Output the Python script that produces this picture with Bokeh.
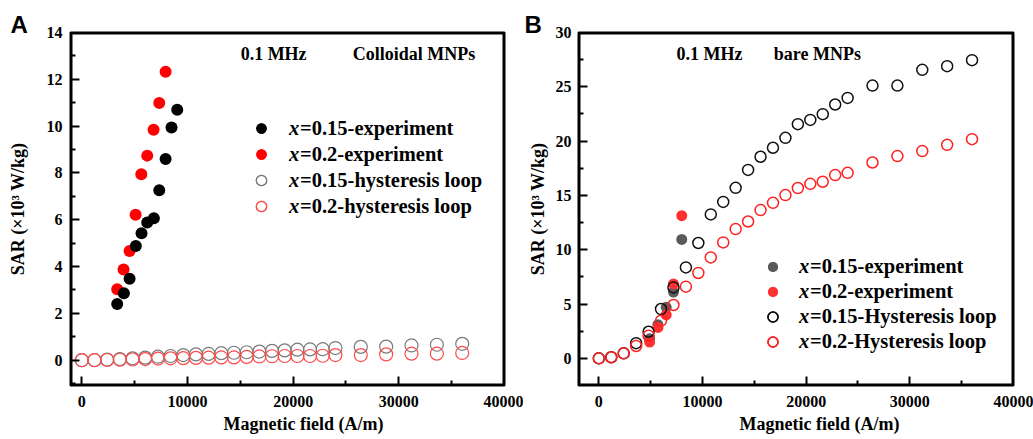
from bokeh.plotting import figure
from bokeh.layouts import row
from bokeh.models import (ColumnDataSource, Range1d, FixedTicker, Legend,
                          LegendItem, Label, Title, LinearAxis)
from bokeh.embed import file_html
from bokeh.resources import INLINE

SERIF = "Liberation Serif"
SANS = "Liberation Sans"

# ---------------- data ----------------
# Panel A (Colloidal MNPs)
a_exp15_field = [3350, 3980, 4520, 5110, 5650, 6190, 6820, 7330, 7930, 8490, 9030]
a_exp15_sar = [2.40, 2.86, 3.48, 4.88, 5.42, 5.88, 6.06, 7.26, 8.60, 9.94, 10.70]
a_exp20_field = [3350, 3950, 4520, 5090, 5630, 6190, 6790, 7330, 7930]
a_exp20_sar = [3.03, 3.88, 4.67, 6.21, 7.94, 8.74, 9.85, 10.99, 12.32]

loop_field = [0, 1200, 2400, 3600, 4800, 6000, 7200, 8400, 9600, 10800, 12000, 13200,
              14400, 15600, 16800, 18000, 19200, 20400, 21600, 22800, 24000,
              26400, 28800, 31200, 33600, 36000]
a_loop15_sar = [0.00, 0.01, 0.03, 0.05, 0.08, 0.11, 0.15, 0.18, 0.22, 0.25, 0.27, 0.30,
                0.32, 0.34, 0.37, 0.40, 0.42, 0.45, 0.46, 0.47, 0.52,
                0.57, 0.58, 0.63, 0.66, 0.70]
a_loop20_sar = [0.00, 0.00, 0.01, 0.02, 0.03, 0.05, 0.07, 0.08, 0.09, 0.10, 0.11, 0.12,
                0.12, 0.14, 0.16, 0.17, 0.18, 0.18, 0.18, 0.19, 0.22,
                0.22, 0.25, 0.28, 0.28, 0.31]

# Panel B (bare MNPs)
b_exp15_field = [4900, 5700, 6500, 7200, 8000]
b_exp15_sar = [1.80, 3.10, 4.70, 6.10, 10.95]
b_exp20_field = [4900, 5700, 6500, 7200, 8000]
b_exp20_sar = [1.50, 2.85, 4.00, 6.85, 13.13]
b_loop15_sar = [0.00, 0.10, 0.46, 1.40, 2.45, 4.54, 6.53, 8.37, 10.62, 13.25, 14.40, 15.70,
                17.35, 18.56, 19.39, 20.30, 21.56, 21.95, 22.48, 23.37, 23.98,
                25.11, 25.11, 26.56, 26.90, 27.45]
b_loop20_sar = [0.00, 0.10, 0.46, 1.14, 2.09, 3.47, 4.91, 6.60, 7.86, 9.29, 10.67, 11.90,
                12.60, 13.65, 14.32, 15.03, 15.68, 16.07, 16.26, 16.87, 17.08,
                18.03, 18.62, 19.08, 19.66, 20.18]

# tick positions
x_major = [0, 10000, 20000, 30000, 40000]
x_minor = [5000, 15000, 25000, 35000]
a_y_major = [0, 2, 4, 6, 8, 10, 12, 14]
a_y_minor = [-1, 1, 3, 5, 7, 9, 11, 13]
b_y_major = [0, 5, 10, 15, 20, 25, 30]
b_y_minor = [-2.5, 2.5, 7.5, 12.5, 17.5, 22.5, 27.5]

a_labels = ["=0.15-experiment", "=0.2-experiment", "=0.15-hysteresis loop", "=0.2-hysteresis loop"]
b_labels = ["=0.15-experiment", "=0.2-experiment", "=0.15-Hysteresis loop", "=0.2-Hysteresis loop"]

xlabel = "Magnetic field (A/m)"
ylabel = "SAR (\u00d710\u00b3 W/kg)"


def src(f, s):
    return ColumnDataSource(dict(field=f, sar=s))


def style_tick_axis(ax, loc, neg_standoff):
    # axis pinned to the frame edge: draws the edge line and inward ticks, labels hidden
    ax.fixed_location = loc
    ax.axis_line_color = "black"
    ax.axis_line_width = 4
    ax.major_tick_in = 9
    ax.major_tick_out = 0
    ax.minor_tick_in = 5
    ax.minor_tick_out = 0
    ax.major_tick_line_width = 2
    ax.minor_tick_line_width = 2
    ax.major_tick_line_color = "black"
    ax.minor_tick_line_color = "black"
    ax.major_label_text_font_size = "16px"
    ax.major_label_text_alpha = 0
    ax.major_label_standoff = neg_standoff


def edge_axis(ticker, loc, neg_standoff):
    # plain edge line for the top / right sides of the box
    return LinearAxis(ticker=ticker, fixed_location=loc, axis_line_color="black",
                      axis_line_width=4, major_tick_in=0, major_tick_out=0,
                      minor_tick_in=0, minor_tick_out=0, major_tick_line_color=None,
                      minor_tick_line_color=None, major_label_text_font_size="16px",
                      major_label_text_alpha=0, major_label_standoff=neg_standoff)


def label_axis(ticker, standoff):
    return LinearAxis(ticker=ticker, axis_line_color=None, major_tick_in=0, major_tick_out=0,
                      minor_tick_in=0, minor_tick_out=0, major_tick_line_color=None,
                      minor_tick_line_color=None, major_label_text_font=SERIF,
                      major_label_text_font_style="bold", major_label_text_font_size="16px",
                      major_label_text_color="black", major_label_standoff=standoff)


def make_fig(width, mbl, mbr, mbb, xr, yr, y_major, y_minor, ylab_standoff, ytick_standoff,
             title_offset, letter, letter_offset):
    p = figure(width=width, height=439, x_range=Range1d(*xr), y_range=Range1d(*yr),
               output_backend="svg", toolbar_location=None,
               min_border_left=mbl, min_border_right=mbr, min_border_top=32,
               min_border_bottom=mbb)
    p.grid.visible = False
    p.outline_line_color = "black"
    p.outline_line_width = 2
    p.background_fill_color = "white"
    p.border_fill_color = "white"
    xt = FixedTicker(ticks=x_major, minor_ticks=x_minor)
    yt = FixedTicker(ticks=y_major, minor_ticks=y_minor)
    p.xaxis.ticker = xt
    p.yaxis.ticker = yt
    style_tick_axis(p.xaxis[0], yr[0], -18)
    style_tick_axis(p.yaxis[0], xr[0], -17)
    # visible tick labels and y title
    lx = label_axis(xt, 10)
    p.add_layout(lx, "below")
    ly = label_axis(yt, ytick_standoff)
    ly.axis_label = ylabel
    ly.axis_label_text_font = SERIF
    ly.axis_label_text_font_style = "bold"
    ly.axis_label_text_font_size = "18px"
    ly.axis_label_text_color = "black"
    ly.axis_label_standoff = ylab_standoff
    p.add_layout(ly, "left")
    # top and right edges of the box
    p.add_layout(edge_axis(xt, yr[1], -18), "above")
    p.add_layout(edge_axis(yt, xr[1], -17), "right")
    t = Title(text=xlabel, align="left", offset=title_offset, text_font=SERIF,
              text_font_style="bold", text_font_size="18px", text_color="black", standoff=5)
    p.add_layout(t, "below")
    lt = Title(text=letter, align="left", offset=letter_offset, text_font=SANS,
               text_font_style="bold", text_font_size="24px", text_color="black",
               standoff=-10, vertical_align="bottom")
    p.add_layout(lt, "above")
    return p


def add_legend(p, renderers, labels, loc, g, s1, s2):
    items_txt = [LegendItem(label=t, renderers=[r]) for r, t in zip(renderers, labels)]
    items_x = [LegendItem(label="x", renderers=[r]) for r in renderers]
    for items, s, st in ((items_txt, s2, "bold"), (items_x, s1, "bold italic")):
        lg = Legend(items=items, location=loc, orientation="vertical",
                    glyph_height=g, glyph_width=g, label_height=g, spacing=0,
                    padding=0, margin=0, label_standoff=s,
                    border_line_alpha=0, background_fill_alpha=0,
                    label_text_font=SERIF, label_text_font_style=st,
                    label_text_font_size="20.5px", label_text_color="black")
        p.add_layout(lg, "center")


# ---------------- panel A ----------------
a_xr, a_yr = (-1070, 40000), (-1.08, 14)
pA = make_fig(523, 70, 19, 53, a_xr, a_yr, a_y_major, a_y_minor, 16, 8, 153, "A", -60)
rA_l15 = pA.scatter("field", "sar", source=src(loop_field, a_loop15_sar), size=13,
                    fill_alpha=0, line_color="#7a7a7a", line_width=1.2)
rA_l20 = pA.scatter("field", "sar", source=src(loop_field, a_loop20_sar), size=13,
                    fill_alpha=0, line_color="#ff4a4a", line_width=1.2)
rA_e20 = pA.scatter("field", "sar", source=src(a_exp20_field, a_exp20_sar), size=12,
                    fill_color="#ff0000", line_color="#ff0000", line_width=0)
rA_e15 = pA.scatter("field", "sar", source=src(a_exp15_field, a_exp15_sar), size=12,
                    fill_color="#000000", line_color="#000000", line_width=0)
add_legend(pA, [rA_e15, rA_e20, rA_l15, rA_l20], a_labels, (178, 166), 26, 15, 26)
pA.add_layout(Label(x=15030, y=13.09, text="0.1 MHz", text_font=SERIF, text_font_style="bold",
                    text_font_size="18px", text_baseline="middle", text_align="left",
                    text_color="black"))
pA.add_layout(Label(x=25630, y=13.09, text="Colloidal MNPs", text_font=SERIF,
                    text_font_style="bold", text_font_size="18px", text_baseline="middle",
                    text_align="left", text_color="black"))

# ---------------- panel B ----------------
b_xr, b_yr = (-1960, 40000), (-2.5, 30)
pB = make_fig(510, 55, 20, 54, b_xr, b_yr, b_y_major, b_y_minor, 5, 7, 161, "B", -54)
rB_e15 = pB.scatter("field", "sar", source=src(b_exp15_field, b_exp15_sar), size=11,
                    fill_color="#5a5a5a", line_color="#5a5a5a", line_width=0)
rB_e20 = pB.scatter("field", "sar", source=src(b_exp20_field, b_exp20_sar), size=11,
                    fill_color="#ff3030", line_color="#ff3030", line_width=0)
rB_l15 = pB.scatter("field", "sar", source=src(loop_field, b_loop15_sar), size=11,
                    fill_alpha=0, line_color="#111111", line_width=1.5)
rB_l20 = pB.scatter("field", "sar", source=src(loop_field, b_loop20_sar), size=11,
                    fill_alpha=0, line_color="#ff2020", line_width=1.5)
add_legend(pB, [rB_e15, rB_e20, rB_l15, rB_l20], b_labels, (182, 31), 25, 14, 25)
pB.add_layout(Label(x=7490, y=28.03, text="0.1 MHz", text_font=SERIF, text_font_style="bold",
                    text_font_size="18px", text_baseline="middle", text_align="left",
                    text_color="black"))
pB.add_layout(Label(x=16880, y=28.03, text="bare MNPs", text_font=SERIF,
                    text_font_style="bold", text_font_size="18px", text_baseline="middle",
                    text_align="left", text_color="black"))

layout = row(pA, pB)
open("out.html", "w").write(file_html(layout, INLINE))
